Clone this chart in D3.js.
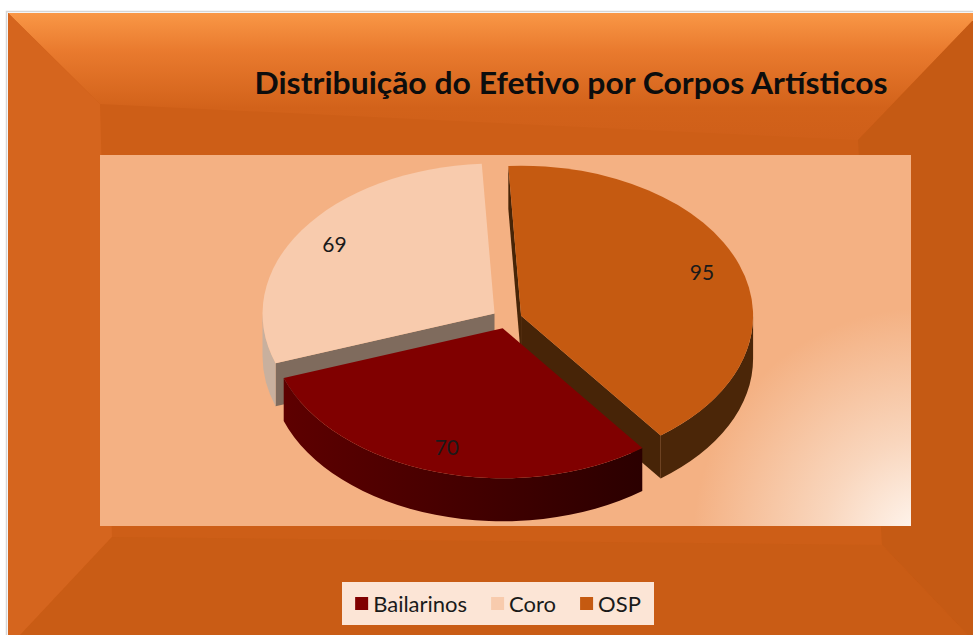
<!DOCTYPE html>
<html>
<head>
<meta charset="utf-8">
<script src="https://cdn.jsdelivr.net/npm/d3@7"></script>
<style>
  html, body { margin: 0; padding: 0; background: #fff; }
  svg { display: block; }
</style>
</head>
<body>
<div id="chart"></div>
<script>
// -------------------------------------------------------------------------
// Data
const categories = ['Bailarinos', 'Coro', 'OSP'];
const values = [70, 69, 95];
const chartTitle = 'Distribuição do Efetivo por Corpos Artísticos';

// -------------------------------------------------------------------------
// Look
const topColors = ['#800000', '#f8cbad', '#c55a11'];
const wallColors = ['url(#wallBailarinos)', '#c8b09e', '#4b2608'];
const cutColors = ['#3c0000', '#7f6b5d', '#472407'];

const width = 973;
const height = 635;

// pie geometry (projected ellipse)
const cx = 507;
const cy = 319;
const rx = 232;
const ry = 150;
const k = ry / rx;
const depth = 43;
const explode = 15;
const firstSliceAngle = 143;

const svg = d3.select('#chart')
  .append('svg')
  .attr('width', width)
  .attr('height', height);

const defs = svg.append('defs');

let topGrad = defs.append('linearGradient')
  .attr('id', 'topBand')
  .attr('gradientUnits', 'userSpaceOnUse')
  .attr('x1', 0).attr('y1', 13).attr('x2', 0).attr('y2', 140);
topGrad.append('stop').attr('offset', '0%').attr('stop-color', '#f99746');
topGrad.append('stop').attr('offset', '30%').attr('stop-color', '#e97a2e');
topGrad.append('stop').attr('offset', '75%').attr('stop-color', '#d2621a');
topGrad.append('stop').attr('offset', '100%').attr('stop-color', '#cf5f19');

let plotGrad = defs.append('radialGradient')
  .attr('id', 'plotGlow')
  .attr('gradientUnits', 'userSpaceOnUse')
  .attr('cx', 925).attr('cy', 540).attr('r', 290);
plotGrad.append('stop').attr('offset', '0%').attr('stop-color', '#fff9f4');
plotGrad.append('stop').attr('offset', '35%').attr('stop-color', '#f9d6bd');
plotGrad.append('stop').attr('offset', '80%').attr('stop-color', '#f4b183');
plotGrad.append('stop').attr('offset', '100%').attr('stop-color', '#f4b183');

let wallGrad = defs.append('linearGradient')
  .attr('id', 'wallBailarinos')
  .attr('gradientUnits', 'userSpaceOnUse')
  .attr('x1', 280).attr('y1', 0).attr('x2', 650).attr('y2', 0);
wallGrad.append('stop').attr('offset', '0%').attr('stop-color', '#5e0000');
wallGrad.append('stop').attr('offset', '100%').attr('stop-color', '#2a0000');

// -------------------------------------------------------------------------
// Bevelled frame
const outer = { x0: 8, y0: 13, x1: 980, y1: 648 };
const inner = { tl: [100, 104], tr: [858, 140], br: [882, 545], bl: [112, 537] };
const oTL = [outer.x0, outer.y0];
const oTR = [outer.x1, outer.y0];
const oBR = [outer.x1, outer.y1];
const oBL = [outer.x0, outer.y1];

svg.append('rect')
  .attr('x', outer.x0 - 1.5).attr('y', outer.y0 - 1.5)
  .attr('width', outer.x1 - outer.x0 + 3).attr('height', outer.y1 - outer.y0 + 3)
  .attr('fill', 'none').attr('stroke', '#d6d6d6').attr('stroke-width', 1.5);

svg.append('rect')
  .attr('x', outer.x0).attr('y', outer.y0)
  .attr('width', outer.x1 - outer.x0).attr('height', outer.y1 - outer.y0)
  .attr('fill', '#cd5e17');

const bands = [
  { pts: [oTL, oTR, inner.tr, inner.tl], fill: 'url(#topBand)' },
  { pts: [oTL, inner.tl, inner.bl, oBL], fill: '#d5651e' },
  { pts: [oTR, oBR, inner.br, inner.tr], fill: '#c55a14' },
  { pts: [inner.bl, inner.br, oBR, oBL], fill: '#c95c15' }
];
svg.append('g')
  .selectAll('polygon')
  .data(bands)
  .enter()
  .append('polygon')
  .attr('points', d => d.pts.map(p => p.join(',')).join(' '))
  .attr('fill', d => d.fill);

// -------------------------------------------------------------------------
// Title
svg.append('text')
  .attr('x', 571)
  .attr('y', 94)
  .attr('text-anchor', 'middle')
  .attr('font-family', 'Lato, "Open Sans", sans-serif')
  .attr('font-weight', 'bold')
  .attr('font-size', 30)
  .attr('textLength', 633)
  .attr('lengthAdjust', 'spacingAndGlyphs')
  .attr('fill', '#0d0d0d')
  .text(chartTitle);

// -------------------------------------------------------------------------
// Plot area
svg.append('rect')
  .attr('x', 100).attr('y', 155)
  .attr('width', 811).attr('height', 371)
  .attr('fill', 'url(#plotGlow)');

// -------------------------------------------------------------------------
// 3D pie
const pie = d3.pie()
  .sort(null)
  .startAngle(firstSliceAngle * Math.PI / 180)
  .endAngle((firstSliceAngle + 360) * Math.PI / 180);

const arcs = pie(values).map((d, i) => {
  let mid = (d.startAngle + d.endAngle) / 2;
  d.i = i;
  d.ox = cx + explode * Math.sin(mid);
  d.oy = cy - explode * Math.cos(mid) * k;
  d.mid = mid;
  return d;
});

function rim(d, a, dz) {
  return [d.ox + rx * Math.sin(a), d.oy - ry * Math.cos(a) + (dz || 0)];
}

function topPath(d) {
  let p0 = rim(d, d.startAngle);
  let p1 = rim(d, d.endAngle);
  let large = d.endAngle - d.startAngle > Math.PI ? 1 : 0;
  return `M${d.ox},${d.oy}L${p0}A${rx},${ry} 0 ${large} 1 ${p1}Z`;
}

// parts of the outer rim that face the viewer (between 90 and 270 deg)
function frontSpans(d) {
  let spans = [];
  for (let n = -1; n <= 2; n++) {
    let s = Math.max(d.startAngle, Math.PI / 2 + n * 2 * Math.PI);
    let t = Math.min(d.endAngle, 3 * Math.PI / 2 + n * 2 * Math.PI);
    if (t > s) spans.push([s, t]);
  }
  return spans;
}

function wallPath(d, s, t) {
  let a = rim(d, s), b = rim(d, t);
  let b2 = rim(d, t, depth), a2 = rim(d, s, depth);
  return `M${a}A${rx},${ry} 0 0 1 ${b}L${b2}A${rx},${ry} 0 0 0 ${a2}Z`;
}

function cutPath(d, a) {
  let p = rim(d, a);
  return `M${d.ox},${d.oy}L${p}L${p[0]},${p[1] + depth}L${d.ox},${d.oy + depth}Z`;
}

// paint from back to front
const order = arcs.slice().sort((a, b) => Math.cos(b.mid) - Math.cos(a.mid));

const pieG = svg.append('g').attr('class', 'pie3d');
order.forEach(d => {
  let g = pieG.append('g').attr('class', `slice-${categories[d.i]}`);
  // radial cut faces that face the viewer
  [[d.startAngle, d.startAngle - Math.PI / 2], [d.endAngle, d.endAngle + Math.PI / 2]]
    .forEach(([a, normal]) => {
      if (Math.cos(normal) < 0) {
        g.append('path')
          .attr('d', cutPath(d, a))
          .attr('fill', cutColors[d.i]);
      }
    });
  frontSpans(d).forEach(([s, t]) => {
    g.append('path')
      .attr('d', wallPath(d, s, t))
      .attr('fill', wallColors[d.i]);
  });
  g.append('path')
    .attr('d', topPath(d))
    .attr('fill', topColors[d.i]);
});

// data labels
const labelR = 0.83;
pieG.selectAll('.label')
  .data(arcs)
  .enter()
  .append('text')
  .attr('class', 'label')
  .attr('x', d => d.ox + labelR * rx * Math.sin(d.mid))
  .attr('y', d => d.oy - labelR * ry * Math.cos(d.mid))
  .attr('dy', '0.36em')
  .attr('text-anchor', 'middle')
  .attr('font-family', 'Lato, "Open Sans", sans-serif')
  .attr('font-size', 21)
  .attr('fill', '#1a1a1a')
  .text(d => d.data);

// -------------------------------------------------------------------------
// Legend
const legend = svg.append('g').attr('class', 'legend');
legend.append('rect')
  .attr('x', 342).attr('y', 582)
  .attr('width', 312).attr('height', 43)
  .attr('fill', '#fce5d6');

const items = legend.append('g');
let xPos = 0;
categories.forEach((c, i) => {
  let item = items.append('g').attr('transform', `translate(${xPos},0)`);
  item.append('rect')
    .attr('x', 0).attr('y', -7)
    .attr('width', 13).attr('height', 13)
    .attr('fill', topColors[i]);
  let t = item.append('text')
    .attr('x', 18)
    .attr('y', 0)
    .attr('dy', '0.35em')
    .attr('font-family', 'Lato, "Open Sans", sans-serif')
    .attr('font-size', 22)
    .attr('fill', '#1a1a1a')
    .text(c);
  xPos += 18 + t.node().getComputedTextLength() + 24;
});
let itemsWidth = xPos - 24;
items.attr('transform', `translate(${342 + (312 - itemsWidth) / 2},${604})`);
</script>
</body>
</html>
